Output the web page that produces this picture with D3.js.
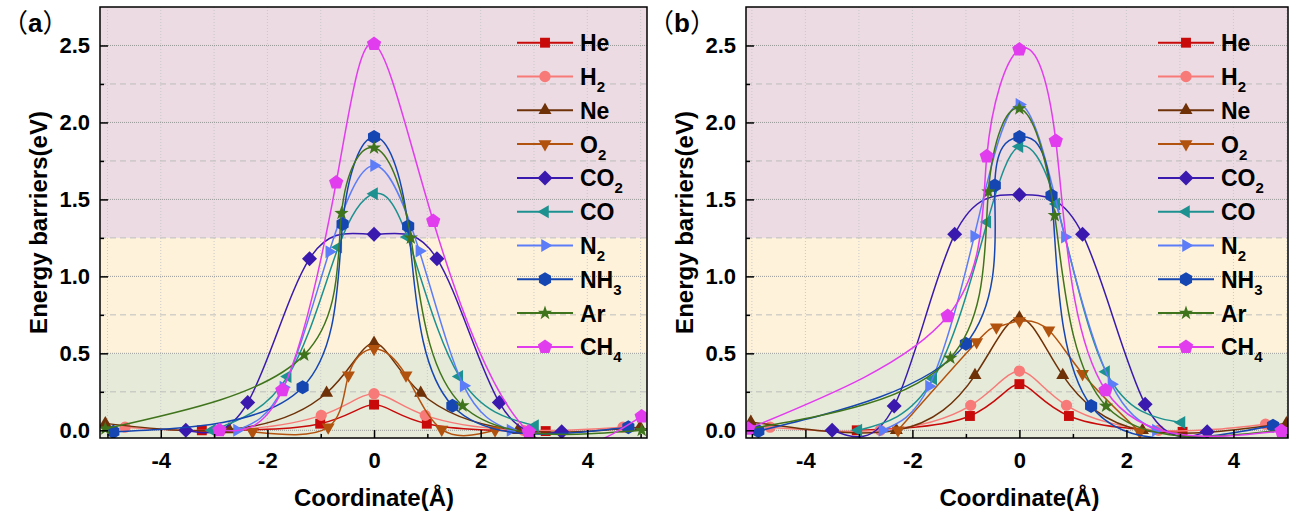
<!DOCTYPE html>
<html>
<head>
<meta charset="utf-8">
<script src="https://cdn.jsdelivr.net/npm/d3@7"></script>
<style>
  body { margin: 0; background: #fff; }
  text { font-family: 'Liberation Sans', Arial, sans-serif; font-weight: bold; fill: #000; }
</style>
</head>
<body>
<svg id="chart" width="1289" height="511"></svg>
<script>
// gases in legend order
const gases = ['He', 'H2', 'Ne', 'O2', 'CO2', 'CO', 'N2', 'NH3', 'Ar', 'CH4'];
const colors = ['#c80a0a', '#f77a78', '#6e3108', '#b2520f', '#3a1aae', '#1c9190', '#5c7cf8', '#1546b2', '#3f741c', '#e23cef'];
const shapes = ['square', 'circle', 'triUp', 'triDown', 'diamond', 'triLeft', 'triRight', 'hexagon', 'star', 'pentagon'];

const xTicks = [-4, -2, 0, 2, 4];
const yTicks = [0, 0.5, 1, 1.5, 2, 2.5];
const yDomain = [-0.05, 2.75];
const bandLimits = [0.5, 1.25];

// panel (a): [coordinate, barrier]
const heA = [[-3.23, 0], [-1.01, 0.043], [0, 0.167], [0.99, 0.043], [3.22, -0.005]];
const h2A = [[-4.67, 0.02], [-2.87, 0], [-0.99, 0.097], [0, 0.238], [0.96, 0.097], [2.8, 0], [4.67, 0.02]];
const neA = [[-5.04, 0.045], [-2.72, 0.005], [-0.89, 0.242], [0, 0.567], [0.875, 0.242], [2.7, 0], [4.99, 0.02]];
const o2A = [[-2.28, -0.01], [-0.86, 0.02], [-0.48, 0.357], [0, 0.53], [0.6, 0.357], [1.27, 0.006], [2.27, 0]];
const co2A = [[-3.53, 0], [-2.37, 0.18], [-1.21, 1.115], [0, 1.273], [1.18, 1.115], [2.35, 0.18], [3.52, -0.01]];
const coA = [[-3.04, 0], [-1.62, 0.35], [-0.67, 1.19], [0, 1.537], [0.625, 1.255], [1.6, 0.35], [3.02, 0.03]];
const n2A = [[-2.57, 0], [-1.7, 0.28], [-0.84, 1.16], [0, 1.72], [0.85, 1.165], [1.68, 0.29], [2.56, 0]];
const nh3A = [[-4.89, -0.01], [-1.34, 0.28], [-0.59, 1.34], [0, 1.905], [0.64, 1.325], [1.47, 0.16], [4.77, 0.02]];
const arA = [[-5.04, 0.01], [-1.31, 0.49], [-0.61, 1.41], [0, 1.835], [0.69, 1.25], [1.66, 0.16], [5.02, 0]];
const ch4A = [[-2.9, 0], [-1.72, 0.26], [-0.71, 1.61], [0, 2.51], [1.11, 1.36], [2.9, -0.01], [5.02, 0.09]];

// panel (b)
const heB = [[-3.04, 0], [-0.925, 0.093], [0, 0.3], [0.925, 0.093], [3.05, -0.01]];
const h2B = [[-4.66, 0.02], [-2.6, 0], [-0.91, 0.162], [0, 0.385], [0.88, 0.162], [2.6, 0], [4.6, 0.04]];
const neB = [[-5.02, 0.054], [-2.3, 0], [-0.83, 0.357], [0, 0.732], [0.81, 0.357], [2.3, 0], [4.99, 0.045]];
const o2B = [[-2.27, 0], [-0.8, 0.573], [-0.43, 0.67], [0, 0.71], [0.55, 0.65], [1.18, 0.368], [2.25, -0.01]];
const co2B = [[-3.5, 0], [-2.34, 0.158], [-1.21, 1.273], [0, 1.53], [1.18, 1.273], [2.35, 0.17], [3.51, -0.01]];
const coB = [[-3.01, 0], [-1.61, 0.335], [-0.6, 1.353], [0, 1.844], [0.69, 1.47], [1.62, 0.38], [3.03, 0.05]];
const n2B = [[-2.56, 0], [-1.69, 0.286], [-0.845, 1.26], [0, 2.117], [0.85, 1.255], [1.72, 0.3], [2.55, 0]];
const nh3B = [[-4.88, -0.005], [-1.0, 0.563], [-0.46, 1.59], [0, 1.905], [0.6, 1.526], [1.34, 0.158], [4.74, 0.03]];
const arB = [[-5.04, 0.01], [-1.29, 0.47], [-0.58, 1.55], [0, 2.09], [0.66, 1.396], [1.62, 0.158], [4.9, 0]];
const ch4B = [[-5.07, 0.01], [-1.34, 0.742], [-0.61, 1.78], [0, 2.474], [0.68, 1.88], [1.61, 0.26], [4.9, -0.005]];

const svg = d3.select('#chart');

// regular polygon / star path centred on 0,0
const polygon = (n, r, rot, inner) => {
  const pts = [];
  const k = inner ? n * 2 : n;
  for (let i = 0; i < k; i++) {
    const a = rot + (i * 2 * Math.PI) / k;
    const rr = inner && i % 2 ? inner : r;
    pts.push([rr * Math.cos(a), rr * Math.sin(a)]);
  }
  return 'M' + pts.map((p) => p.join(',')).join('L') + 'Z';
};

const markerPath = (shape) => {
  const up = -Math.PI / 2;
  switch (shape) {
    case 'square': return polygon(4, 7, Math.PI / 4);
    case 'circle': return d3.symbol(d3.symbolCircle, 100)();
    case 'triUp': return polygon(3, 7.5, up);
    case 'triDown': return polygon(3, 7.5, Math.PI / 2);
    case 'diamond': return polygon(4, 7.5, up);
    case 'triLeft': return polygon(3, 7.5, Math.PI);
    case 'triRight': return polygon(3, 7.5, 0);
    case 'hexagon': return polygon(6, 7, up);
    case 'star': return polygon(5, 7.5, up, 3);
    case 'pentagon': return polygon(5, 7.5, up);
  }
};

// label with trailing digits as subscript
const addLabel = (sel, label) => {
  const m = label.match(/^([A-Za-z]+)(\d*)$/);
  sel.append('tspan').text(m[1]);
  if (m[2]) sel.append('tspan').attr('dy', 7).style('font-size', '15px').text(m[2]);
};

const drawPanel = ({ id, tag, left, right, top, bottom, xDomain, series }) => {
  const x = d3.scaleLinear().domain(xDomain).range([left, right]);
  const y = d3.scaleLinear().domain(yDomain).range([bottom, top]);
  const g = svg.append('g');

  g.append('clipPath').attr('id', `clip-${id}`)
    .append('rect')
    .attr('x', left).attr('y', top)
    .attr('width', right - left).attr('height', bottom - top);

  // coloured energy bands
  const bandEdges = [yDomain[0], ...bandLimits, yDomain[1]];
  const bandFills = ['#e6ead8', '#fef3da', '#ecdbe2'];
  g.selectAll('.band')
    .data(d3.pairs(bandEdges))
    .join('rect')
    .attr('x', left)
    .attr('width', right - left)
    .attr('y', (d) => y(d[1]))
    .attr('height', (d) => y(d[0]) - y(d[1]))
    .attr('fill', (d, i) => bandFills[i]);

  // grid
  const vGrid = d3.range(Math.ceil(xDomain[0]), Math.floor(xDomain[1]) + 1);
  g.selectAll('.vgrid')
    .data(vGrid)
    .join('line')
    .attr('x1', (d) => x(d)).attr('x2', (d) => x(d))
    .attr('y1', top).attr('y2', bottom)
    .attr('stroke', '#c9c9c9').attr('stroke-width', 1).attr('stroke-dasharray', '1,2');

  const minorY = d3.range(0.25, 2.75, 0.5);
  g.selectAll('.hminor')
    .data(minorY)
    .join('line')
    .attr('x1', left).attr('x2', right)
    .attr('y1', (d) => y(d)).attr('y2', (d) => y(d))
    .attr('stroke', '#bdbdbd').attr('stroke-width', 1).attr('stroke-dasharray', '6,4');

  g.selectAll('.hmajor')
    .data(yTicks)
    .join('line')
    .attr('x1', left).attr('x2', right)
    .attr('y1', (d) => y(d)).attr('y2', (d) => y(d))
    .attr('stroke', '#9a9a9a').attr('stroke-width', 1).attr('stroke-dasharray', '1,1');

  // curves + symbols
  const plot = g.append('g').attr('clip-path', `url(#clip-${id})`);
  const line = d3.line().x((d) => x(d[0])).y((d) => y(d[1])).curve(d3.curveNatural);

  series.forEach((pts, i) => {
    plot.append('path')
      .attr('d', line(pts))
      .attr('fill', 'none')
      .attr('stroke', colors[i])
      .attr('stroke-width', 1.5);
    plot.selectAll(`.m${i}`)
      .data(pts)
      .join('path')
      .attr('transform', (d) => `translate(${x(d[0])},${y(d[1])})`)
      .attr('d', markerPath(shapes[i]))
      .attr('fill', colors[i]);
  });

  // axes, ticks pointing inward
  const yAxis = g.append('g').attr('transform', `translate(${left},0)`)
    .call(d3.axisLeft(y).tickValues(yTicks).tickSize(-8).tickPadding(10).tickFormat(d3.format('.1f')));
  g.append('g').attr('transform', `translate(${left},0)`)
    .call(d3.axisLeft(y).tickValues(minorY).tickSize(-4).tickFormat(''));
  const xAxis = g.append('g').attr('transform', `translate(0,${bottom})`)
    .call(d3.axisBottom(x).tickValues(xTicks).tickSize(-8).tickPadding(14).tickFormat((d) => d));
  g.append('g').attr('transform', `translate(0,${bottom})`)
    .call(d3.axisBottom(x).tickValues(vGrid.filter((d) => d % 2 !== 0)).tickSize(-4).tickFormat(''));

  g.selectAll('.domain').remove();
  g.selectAll('.tick line').attr('stroke', '#000').attr('stroke-width', 1.5);
  [yAxis, xAxis].forEach((a) => a.selectAll('text')
    .style('font-size', '22px').style('font-family', "'Liberation Sans', Arial, sans-serif")
    .style('font-weight', 'bold').attr('fill', '#000'));

  // frame
  g.append('rect')
    .attr('x', left).attr('y', top)
    .attr('width', right - left).attr('height', bottom - top)
    .attr('fill', 'none').attr('stroke', '#000').attr('stroke-width', 1.5);

  // axis titles
  g.append('text')
    .attr('transform', `translate(${left - 53},${(top + bottom) / 2}) rotate(-90)`)
    .attr('text-anchor', 'middle')
    .style('font-size', '24px')
    .text('Energy barriers(eV)');
  g.append('text')
    .attr('x', x(0)).attr('y', 506)
    .attr('text-anchor', 'middle')
    .style('font-size', '24px')
    .text('Coordinate(Å)');

  // panel tag with full-width brackets
  const tagText = g.append('text')
    .attr('x', left - 98).attr('y', 32)
    .style('font-size', '26px');
  tagText.append('tspan').style('font-family', "'Noto Sans CJK SC', sans-serif").style('font-weight', 'normal').text('（');
  tagText.append('tspan').text(tag);
  tagText.append('tspan').style('font-family', "'Noto Sans CJK SC', sans-serif").style('font-weight', 'normal').text('）');

  // legend
  const lx = right - 130;
  const legend = g.append('g');
  gases.forEach((name, i) => {
    const ly = 42.7 + i * 33.8;
    legend.append('line')
      .attr('x1', lx).attr('x2', lx + 56)
      .attr('y1', ly).attr('y2', ly)
      .attr('stroke', colors[i]).attr('stroke-width', 2);
    legend.append('path')
      .attr('transform', `translate(${lx + 28},${ly})`)
      .attr('d', markerPath(shapes[i]))
      .attr('fill', colors[i]);
    const t = legend.append('text')
      .attr('x', lx + 63).attr('y', ly + 8.5)
      .style('font-size', '23px');
    addLabel(t, name);
  });
};

drawPanel({
  id: 'a', tag: 'a', left: 100, right: 647, top: 7, bottom: 438,
  xDomain: [-5.14, 5.12],
  series: [heA, h2A, neA, o2A, co2A, coA, n2A, nh3A, arA, ch4A],
});

drawPanel({
  id: 'b', tag: 'b', left: 746, right: 1288, top: 7, bottom: 438,
  xDomain: [-5.11, 5.02],
  series: [heB, h2B, neB, o2B, co2B, coB, n2B, nh3B, arB, ch4B],
});
</script>
</body>
</html>
